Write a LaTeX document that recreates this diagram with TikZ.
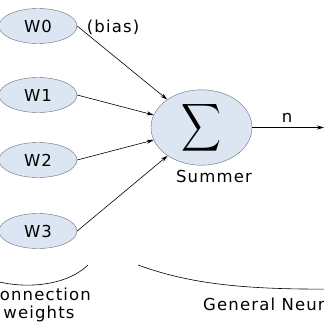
\documentclass[tikz,border=0pt]{standalone}
\usepackage{fontspec}
\setmainfont[LetterSpace=7]{DejaVu Sans}
\usepackage{tikz}
\usetikzlibrary{arrows.meta,positioning,shapes.geometric}
\definecolor{cellfill}{RGB}{220,230,242}
\definecolor{celledge}{RGB}{105,110,120}

\tikzset{
  weight/.style={ellipse, draw=celledge, fill=cellfill, inner sep=0pt,
    minimum width=78pt, minimum height=35pt, font=\fontsize{16.5}{20}\selectfont},
  summer/.style={ellipse, draw=celledge, fill=cellfill, inner sep=0pt,
    minimum width=101pt, minimum height=69pt},
  lbl/.style={font=\fontsize{16.5}{18}\selectfont, inner sep=0pt},
  link/.style={-{Stealth[length=7pt,width=4pt]}, line width=0.6pt}
}

\begin{document}
\begin{tikzpicture}[x=1pt,y=-1pt]
    \useasboundingbox (0,0) rectangle (324,324);
    \fill[white] (0,0) rectangle (324,324);

    % Weights
    \node[weight] (w0) at (38,26) {W0};
    \node[weight] (w1) at (38,95) {W1};
    \node[weight] (w2) at (38,160) {W2};
    \node[weight] (w3) at (38,231) {W3};
    \node[lbl] (bias) at (113,27) {(bias)};

    % Summer
    \node[summer] (sum) at (201.5,127.5) {\resizebox{40pt}{35pt}{$\displaystyle\sum$}};
    \node[lbl] (sumlbl) at (214,176) {Summer};

    % Connections
    \draw[link] (w0.east) -- (sum);
    \draw[link] (w1.east) -- (sum);
    \draw[link] (w2.east) -- (sum);
    \draw[link] (w3.east) -- (sum);

    % Output
    \coordinate (out) at (324,127.5);
    \draw[link] (sum.east) -- (out);
    \node[lbl] (n) at (287,118) {n};

    % Braces
    \coordinate (cl) at (-30,270);
    \coordinate (cr) at (88,265);
    \draw[line width=0.6pt] (cl) .. controls (0,290) and (60,292) .. (cr);
    \node[lbl, align=center] (conn) at (39,305) {Connection\\weights};

    \coordinate (gl) at (138,265);
    \coordinate (gr) at (340,289);
    \draw[line width=0.6pt] (gl) .. controls (190,284) and (245,290) .. (gr);
    \node[lbl, anchor=west] (gen) at (203,304) {General Neuron};
\end{tikzpicture}
\end{document}
